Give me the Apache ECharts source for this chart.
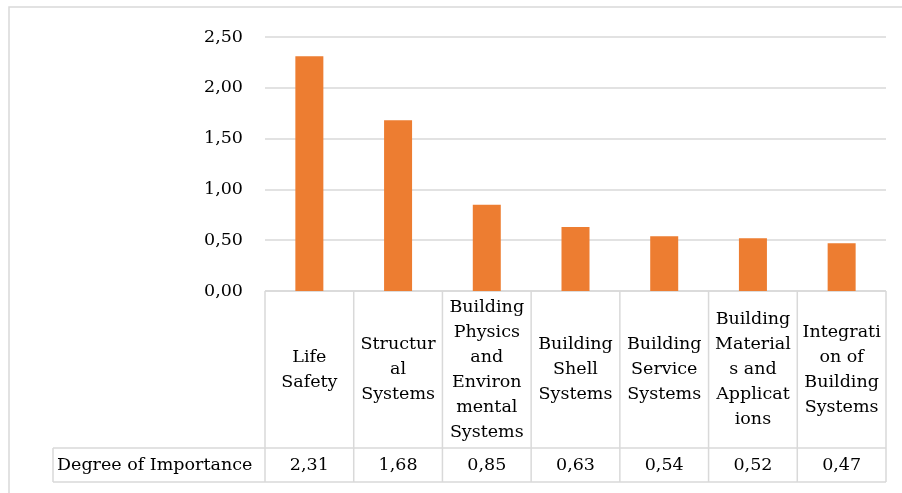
<!DOCTYPE html>
<html>
<head>
<meta charset="utf-8">
<script src="https://cdn.jsdelivr.net/npm/echarts@6/dist/echarts.min.js"></script>
<style>
  html, body { margin: 0; padding: 0; background: #fff; }
  #chart { width: 902px; height: 493px; }
</style>
</head>
<body>
<div id="chart"></div>
<script>
// data
const seriesName = 'Degree of Importance';
const categories = [
  'Life Safety',
  'Structural Systems',
  'Building Physics and Environmental Systems',
  'Building Shell Systems',
  'Building Service Systems',
  'Building Materials and Applications',
  'Integration of Building Systems'
];
// wrapped the way the table header shows them
const categoryLines = [
  ['Life', 'Safety'],
  ['Structur', 'al', 'Systems'],
  ['Building', 'Physics', 'and', 'Environ', 'mental', 'Systems'],
  ['Building', 'Shell', 'Systems'],
  ['Building', 'Service', 'Systems'],
  ['Building', 'Material', 's and', 'Applicat', 'ions'],
  ['Integrati', 'on of', 'Building', 'Systems']
];
const values = [2.31, 1.68, 0.85, 0.63, 0.54, 0.52, 0.47];
const yMax = 2.5;
const yStep = 0.5;

const FONT = 'DejaVu Serif';
const FS = 17.5;
const LINE = '#d9d9d9';
const fmt = v => v.toFixed(2).replace('.', ',');

const G_LEFT = 265, G_RIGHT = 886, G_TOP = 37, G_BOTTOM = 291;
const HEAD_BOTTOM = 448, ROW_BOTTOM = 482, LEGEND_LEFT = 53;

const chart = echarts.init(document.getElementById('chart'), null, { renderer: 'canvas' });

chart.setOption({
  animation: false,
  backgroundColor: '#fff',
  grid: { left: G_LEFT, right: 902 - G_RIGHT, top: G_TOP, height: G_BOTTOM - G_TOP },
  xAxis: {
    type: 'category',
    data: categories,
    axisLine: { show: false },
    axisTick: { show: false },
    axisLabel: {
      interval: 0,
      margin: (HEAD_BOTTOM - G_BOTTOM) / 2,
      verticalAlign: 'middle',
      fontFamily: FONT,
      fontSize: FS,
      lineHeight: 25,
      color: '#000',
      formatter: (v, i) => categoryLines[i].join('\n')
    }
  },
  yAxis: {
    type: 'value',
    min: 0,
    max: yMax,
    interval: yStep,
    axisLine: { show: false },
    axisTick: { show: false },
    splitLine: { lineStyle: { color: LINE, width: 1.5 } },
    axisLabel: {
      margin: 22,
      fontFamily: FONT,
      fontSize: FS,
      color: '#000',
      formatter: fmt
    }
  },
  series: [{
    name: seriesName,
    type: 'bar',
    data: values,
    barWidth: 28,
    itemStyle: { color: '#ED7D31' }
  }]
});

// data table under the plot
const n = categories.length;
const colW = (G_RIGHT - G_LEFT) / n;
const graphics = [];
const line = (x1, y1, x2, y2) => graphics.push({
  type: 'line', silent: true,
  shape: { x1, y1, x2, y2 },
  style: { stroke: LINE, lineWidth: 1.5 }
});

// outer chart frame
graphics.push({
  type: 'rect', silent: true,
  shape: { x: 9, y: 7, width: 920, height: 520 },
  style: { fill: null, stroke: LINE, lineWidth: 1.5 }
});

line(G_LEFT, G_BOTTOM, G_RIGHT, G_BOTTOM);
line(LEGEND_LEFT, HEAD_BOTTOM, G_RIGHT, HEAD_BOTTOM);
line(LEGEND_LEFT, ROW_BOTTOM, G_RIGHT, ROW_BOTTOM);
line(LEGEND_LEFT, HEAD_BOTTOM, LEGEND_LEFT, ROW_BOTTOM);
for (let i = 0; i <= n; i++) {
  const x = G_LEFT + i * colW;
  line(x, G_BOTTOM, x, ROW_BOTTOM);
}

graphics.push({
  type: 'text', silent: true,
  style: {
    x: 57, y: (HEAD_BOTTOM + ROW_BOTTOM) / 2,
    text: seriesName,
    font: FS + 'px "' + FONT + '"',
    fill: '#000', align: 'left', verticalAlign: 'middle'
  }
});

values.forEach((v, i) => {
  const cx = chart.convertToPixel({ xAxisIndex: 0 }, i);
  graphics.push({
    type: 'text', silent: true,
    style: {
      x: cx, y: (HEAD_BOTTOM + ROW_BOTTOM) / 2,
      text: fmt(v),
      font: FS + 'px "' + FONT + '"',
      fill: '#000', align: 'center', verticalAlign: 'middle'
    }
  });
});

chart.setOption({ graphic: graphics });
</script>
</body>
</html>
